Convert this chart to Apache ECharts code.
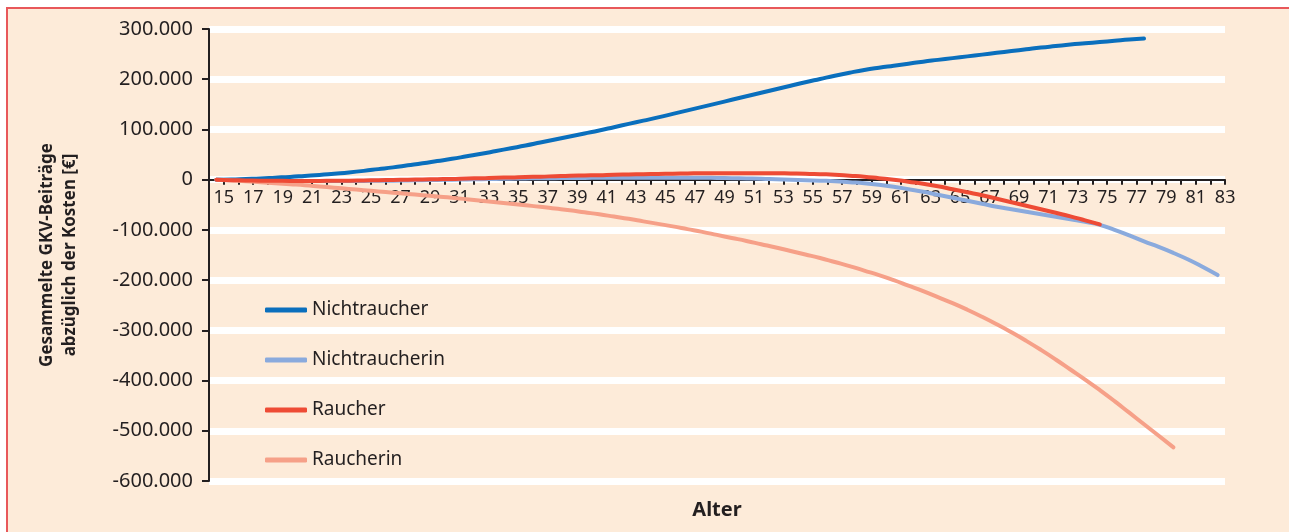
<!DOCTYPE html>
<html>
<head>
<meta charset="utf-8">
<script src="https://cdn.jsdelivr.net/npm/echarts@6/dist/echarts.min.js"></script>
<style>
  html, body { margin: 0; padding: 0; background: #ffffff; }
  #chart { width: 1289px; height: 532px; }
</style>
</head>
<body>
<div id="chart"></div>
<script>
// Alter 15..83
var alter = [];
for (var a = 15; a <= 83; a++) { alter.push(String(a)); }

var serienNamen = ['Nichtraucher', 'Nichtraucherin', 'Raucher', 'Raucherin'];

// Werte in Tausend Euro, ab Alter 15
var nichtraucher = [0, 0.5, 1.5, 2.5, 4, 5.5, 7.5, 9.5, 12, 14.5, 17.5, 21, 24.5, 28.5, 32.5, 37, 41.5, 46.5, 51.5, 57,
  62.5, 68, 74, 80, 86, 92, 98, 104.5, 111, 117.5, 124, 131, 138, 145, 152, 159, 166, 173, 180, 187,
  194, 200.5, 207, 213, 218.5, 223, 227, 231, 235, 238.5, 242, 245.5, 249, 252.5, 256, 259.5, 263, 266, 269, 271.5,
  274, 276.5, 279, 281];

var nichtraucherin = [0, -0.5, -1, -1.5, -2, -2, -2.5, -2.5, -2.5, -2.5, -2.5, -2, -2, -1.5, -1, -0.5, 0, 0.5, 1, 1.5,
  2, 2.5, 3, 3, 3.5, 3.5, 4, 4, 4, 4, 4, 4, 4, 4, 3.5, 3, 2.5, 2, 1, 0,
  -1, -2, -3, -5, -7, -10, -14, -19, -24, -30, -36, -42, -48, -54, -59, -64, -69, -74, -79, -84,
  -90, -100, -111, -123, -134, -146, -159, -174, -190];

var raucher = [0, -1, -1.5, -2, -2, -2.5, -2.5, -2.5, -2, -2, -1.5, -1, -0.5, 0, 0.5, 1, 1.5, 2.5, 3, 4,
  4.5, 5.5, 6, 7, 8, 8.5, 9, 10, 10.5, 11, 11.5, 12, 12.5, 13, 13, 13, 13, 13, 13, 12.5,
  12, 11, 10, 8, 6, 3, 0, -4, -8, -13, -19, -25, -31, -38, -45, -52, -59, -66, -73, -81,
  -89];

var raucherin = [0, -1.5, -3, -5, -7, -9, -11, -13.5, -16, -18.5, -21, -23.5, -26, -28.5, -31, -33.5, -36, -39, -42, -45,
  -48, -51, -54, -57.5, -61, -65, -69, -73.5, -78, -83, -88, -93, -98.5, -104, -110, -116, -122, -128.5, -135, -142,
  -149, -156, -164, -172, -181, -190, -200, -211, -222, -234, -246, -259, -273, -288, -304, -321, -339, -358, -378, -398,
  -419, -441, -464, -487, -510, -533];

var farben = ['#0a6fbd', '#8aaadd', '#ee4b35', '#f6a088'];

function inEuro(arr) {
  return arr.map(function (v) { return v * 1000; });
}

function formatDe(v) {
  var neg = v < 0;
  var s = String(Math.abs(v));
  s = s.replace(/\B(?=(\d{3})+(?!\d))/g, '.');
  return (neg ? '-' : '') + s;
}

var chart = echarts.init(document.getElementById('chart'));

var reihen = [nichtraucher, nichtraucherin, raucher, raucherin];
var zOrder = [3, 2, 5, 4];

var series = serienNamen.map(function (name, i) {
  return {
    name: name,
    type: 'line',
    data: inEuro(reihen[i]),
    smooth: true,
    showSymbol: false,
    symbol: 'none',
    z: zOrder[i],
    lineStyle: { width: 4, color: farben[i], cap: 'round' },
    itemStyle: { color: farben[i] }
  };
});

// x-Achse liegt auf der Null-Linie: Abstand vom unteren Rand des Plots
var gridTop = 29, gridBottom = 51, plotHoehe = 532 - gridTop - gridBottom;
var nullOffset = plotHoehe * 600000 / 900000;

var option = {
  animation: false,
  backgroundColor: 'transparent',
  textStyle: { fontFamily: 'Noto Sans' },
  graphic: [{
    type: 'rect',
    z: -10,
    silent: true,
    shape: { x: 7, y: 8, width: 1300, height: 540 },
    style: { fill: '#fdebd9', stroke: '#e8585a', lineWidth: 2 }
  }],
  legend: {
    data: serienNamen,
    orient: 'vertical',
    left: 265,
    top: 299,
    padding: 0,
    icon: 'roundRect',
    itemWidth: 42,
    itemHeight: 5,
    itemGap: 28,
    textStyle: { fontSize: 19, lineHeight: 22, color: '#231f20', fontFamily: 'Noto Sans' }
  },
  grid: { left: 209, right: 64, top: gridTop, bottom: gridBottom, containLabel: false, outerBoundsMode: 'none' },
  xAxis: {
    type: 'category',
    data: alter,
    boundaryGap: true,
    position: 'bottom',
    offset: -nullOffset,
    name: 'Alter',
    nameLocation: 'middle',
    nameGap: 321,
    nameTextStyle: { fontSize: 20, fontWeight: 'bold', color: '#231f20' },
    axisLine: { onZero: false, lineStyle: { color: '#231f20', width: 2 } },
    axisTick: { show: true, interval: 0, length: 5, lineStyle: { color: '#231f20', width: 2 } },
    axisLabel: {
      interval: 1,
      fontSize: 18,
      color: '#231f20',
      margin: 9,
      padding: [0, 0, 0, 15]
    },
    splitLine: { show: false }
  },
  yAxis: {
    type: 'value',
    min: -600000,
    max: 300000,
    interval: 100000,
    name: 'Gesammelte GKV-Beiträge\nabzüglich der Kosten [€]',
    nameLocation: 'middle',
    nameGap: 127,
    nameRotate: 90,
    nameTextStyle: { fontSize: 17, fontWeight: 'bold', color: '#231f20', lineHeight: 23, align: 'center' },
    axisLine: { show: true, lineStyle: { color: '#231f20', width: 2 } },
    axisTick: { show: true, length: 7, lineStyle: { color: '#231f20', width: 2 } },
    axisLabel: {
      fontSize: 20,
      color: '#231f20',
      margin: 16,
      formatter: formatDe
    },
    splitLine: { show: true, lineStyle: { color: '#ffffff', width: 7 } }
  },
  series: series
};

chart.setOption(option);
</script>
</body>
</html>
